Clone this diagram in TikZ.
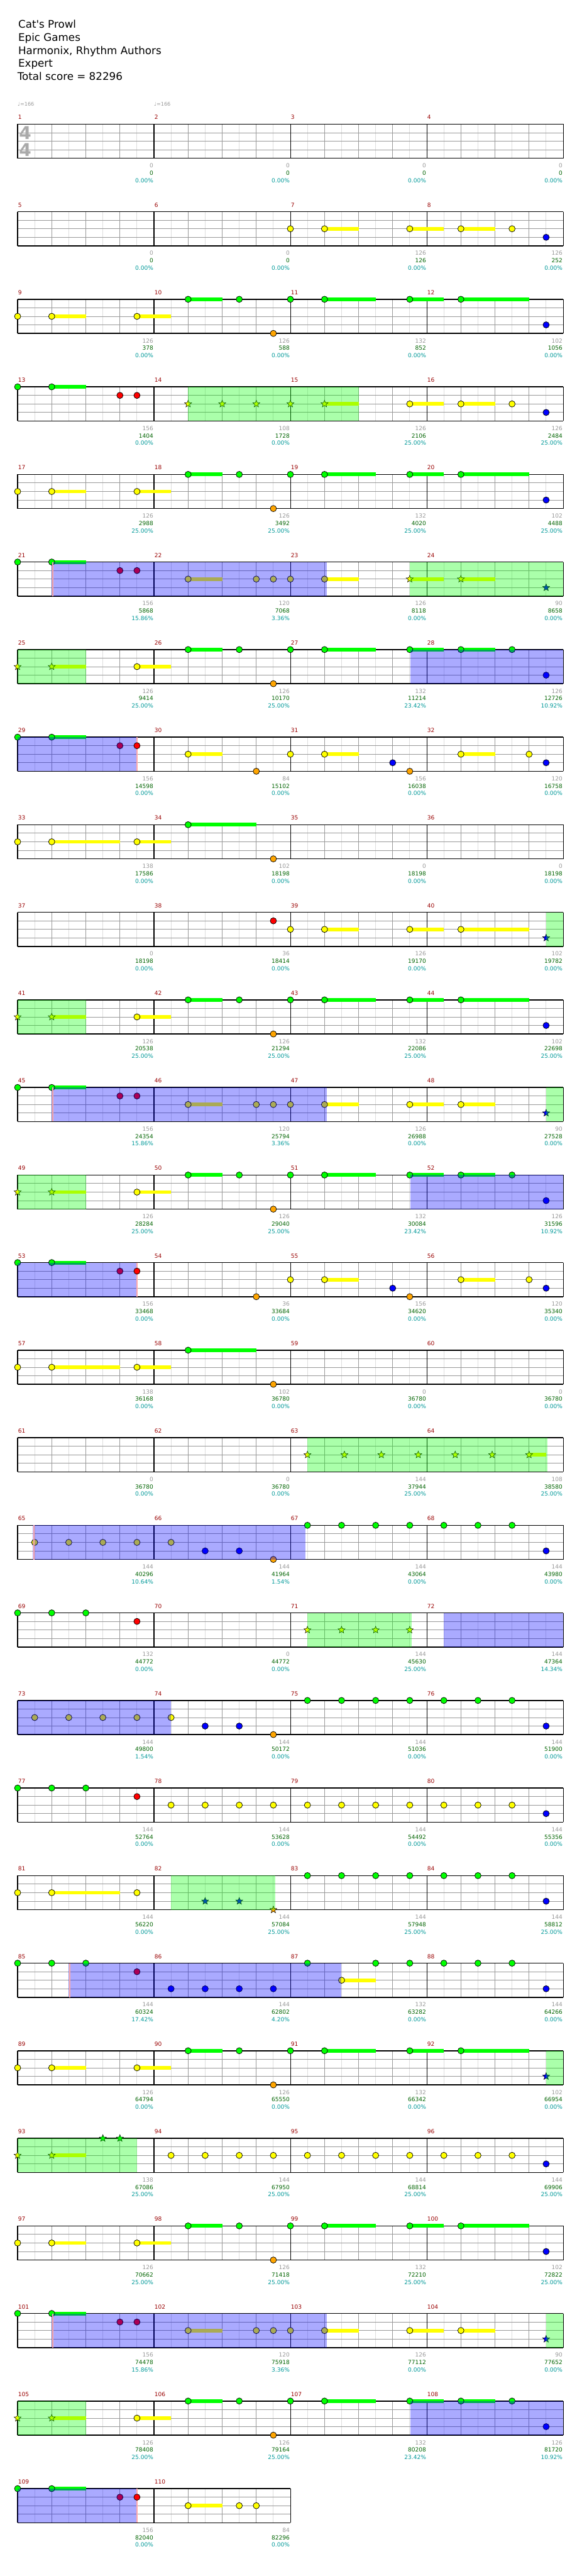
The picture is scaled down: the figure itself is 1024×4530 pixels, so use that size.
\documentclass[tikz,border=0pt]{standalone}
\usepackage{fontspec}
\newfontfamily\dv{DejaVu Sans}
\usetikzlibrary{shapes.geometric}
\definecolor{lane0}{RGB}{0,255,0}
\definecolor{lane1}{RGB}{255,0,0}
\definecolor{lane2}{RGB}{255,255,0}
\definecolor{lane3}{RGB}{0,0,255}
\definecolor{lane4}{RGB}{255,165,0}
\definecolor{mnum}{RGB}{153,0,0}
\definecolor{lgray}{RGB}{153,153,153}
\definecolor{vlgray}{RGB}{221,221,221}
\definecolor{cumgreen}{RGB}{0,100,0}
\definecolor{pctteal}{RGB}{0,153,153}
\definecolor{pinkedge}{RGB}{255,170,170}
\definecolor{tsig}{RGB}{170,170,170}
% note: measure, position (eighths), lane, sustain length (eighths)
\newcommand\nt[4]{%
  \pgfmathsetmacro\nx{31+mod(#1-1,4)*240+#2*30}%
  \pgfmathsetmacro\ny{218.3+floor((#1-1)/4)*154+#3*15}%
  \pgfmathsetmacro\nl{#4*30}%
  \ifdim\nl pt>0pt\relax \draw[sus,lane#3] (\nx,\ny) -- ++(\nl,0);\fi
  \draw[note,fill=lane#3] (\nx,\ny) circle[radius=5.5];}
\newcommand\stn[4]{%
  \pgfmathsetmacro\nx{31+mod(#1-1,4)*240+#2*30}%
  \pgfmathsetmacro\ny{218.3+floor((#1-1)/4)*154+#3*15}%
  \pgfmathsetmacro\nl{#4*30}%
  \ifdim\nl pt>0pt\relax \draw[sus,lane#3] (\nx,\ny) -- ++(\nl,0);\fi
  \node[starnote,fill=lane#3] at (\nx,\ny) {};}
% overlays: measure, position, length (eighths)
\newcommand\spa[3]{%
  \pgfmathsetmacro\nx{31+mod(#1-1,4)*240+#2*30}%
  \pgfmathsetmacro\ny{218.3+floor((#1-1)/4)*154}%
  \pgfmathsetmacro\nl{#3*30}%
  \fill[lane0,opacity=0.333] (\nx,\ny) rectangle ++(\nl,60);}
\newcommand\bla[3]{%
  \pgfmathsetmacro\nx{31+mod(#1-1,4)*240+#2*30}%
  \pgfmathsetmacro\ny{218.3+floor((#1-1)/4)*154}%
  \pgfmathsetmacro\nl{#3*30}%
  \fill[lane3,opacity=0.333] (\nx,\ny) rectangle ++(\nl,60);}
\newcommand\pke[2]{%
  \pgfmathsetmacro\nx{31+mod(#1-1,4)*240+#2*30}%
  \pgfmathsetmacro\ny{218.3+floor((#1-1)/4)*154}%
  \draw[pinkedge,line width=2.5pt] (\nx,\ny) -- ++(0,60);}
% labels under measure end
\newcommand\lb[4]{%
  \pgfmathsetmacro\nx{31+(mod(#1-1,4)+1)*240-1}%
  \pgfmathsetmacro\ny{218.3+floor((#1-1)/4)*154+60}%
  \node[lab,text=lgray] (g#1) at (\nx,\ny+16.6) {#2};
  \node[lab,text=cumgreen] (c#1) at (\nx,\ny+29.6) {#3};
  \node[lab,text=pctteal] (p#1) at (\nx,\ny+42.6) {#4\%};}
% recurring four-measure figure (yellow riff, then green riff)
\newcommand\riffA[1]{%
  \pgfmathtruncatemacro\ma{#1}\pgfmathtruncatemacro\mb{#1+1}%
  \pgfmathtruncatemacro\mc{#1+2}\pgfmathtruncatemacro\md{#1+3}%
  \nt{\ma}{0}{2}{0}\nt{\ma}{2}{2}{2}\nt{\ma}{7}{2}{2}%
  \nt{\mb}{2}{0}{2}\nt{\mb}{5}{0}{0}\nt{\mb}{7}{4}{0}%
  \nt{\mc}{0}{0}{0}\nt{\mc}{2}{0}{3}\nt{\mc}{7}{0}{2}%
  \nt{\md}{2}{0}{4}}
\begin{document}
\begin{tikzpicture}[x=1pt,y=-1pt,
  note/.style={draw=black,line width=0.8pt},
  sus/.style={line width=6.5pt},
  starnote/.style={star,star points=5,star point ratio=2.3,minimum size=13pt,inner sep=0pt,draw=black,line width=0.6pt},
  lab/.style={anchor=base east,inner sep=0pt,font=\dv\fontsize{10}{10}\selectfont},
  mnumst/.style={anchor=base west,inner sep=0pt,text=mnum,font=\dv\fontsize{10}{10}\selectfont},
  title/.style={anchor=base west,inner sep=0pt,font=\dv\fontsize{18.5}{20}\selectfont},
  tempo/.style={anchor=base west,inner sep=0pt,text=lgray,font=\dv\fontsize{9}{9}\selectfont},
  tsnum/.style={inner sep=0pt,text=tsig,font=\dv\bfseries\fontsize{31}{31}\selectfont}]
\fill[white] (0,0) rectangle (1024,4530);
\useasboundingbox (0,0) rectangle (1024,4530);
% header
\node[title] (t1) at (32,49) {Cat's Prowl};
\node[title] (t2) at (32,72.3) {Epic Games};
\node[title] (t3) at (32,95.3) {Harmonix, Rhythm Authors};
\node[title] (t4) at (32,118.3) {Expert};
\node[title] (t5) at (30.5,141.3) {Total score = 82296};
\node[tempo] (tp1) at (31,186.3) {♩=166};
\node[tempo] (tp2) at (271,186.3) {♩=166};
% grid
\foreach \r in {0,...,27}{
  \pgfmathsetmacro\yt{218.3+154*\r}
  \pgfmathtruncatemacro\nb{\r<27 ? 16 : 8}
  \pgfmathsetmacro\xe{31+60*\nb}
  \foreach \k in {1,...,\nb}{
    \draw[vlgray,line width=1pt] (31+60*\k-30,\yt) -- ++(0,60);
    \draw[lgray,line width=1pt] (31+60*\k,\yt) -- ++(0,60);
  }
  \foreach \j in {15,30,45} \draw[lgray,line width=1pt] (31,\yt+\j) -- (\xe,\yt+\j);
  \pgfmathtruncatemacro\nm{\nb/4}
  \foreach \k in {0,...,\nm} \draw[black,line width=1.2pt] (31+240*\k,\yt) -- ++(0,60);
  \draw[black,line width=1.5pt] (31,\yt) -- (\xe,\yt) (31,\yt+60) -- (\xe,\yt+60);
}
\node[tsnum] (ts1) at (44.5,233.5) {4};
\node[tsnum] (ts2) at (44.5,264) {4};
\foreach \m in {1,...,110}{
  \pgfmathsetmacro\nx{31+mod(\m-1,4)*240+0.8}
  \pgfmathsetmacro\ny{218.3+floor((\m-1)/4)*154-8.3}
  \node[mnumst] (mn\m) at (\nx,\ny) {\m};
}
% ---- notes ----
% row 1
\nt{7}{0}{2}{0}\nt{7}{2}{2}{2}\nt{7}{7}{2}{2}
\nt{8}{2}{2}{2}\nt{8}{5}{2}{0}\nt{8}{7}{3}{0}
% row 2
\riffA{9}\nt{12}{7}{3}{0}
% row 3
\nt{13}{0}{0}{0}\nt{13}{2}{0}{2}\nt{13}{6}{1}{0}\nt{13}{7}{1}{0}
\stn{14}{2}{2}{0}\stn{14}{4}{2}{0}\stn{14}{6}{2}{0}
\stn{15}{0}{2}{0}\stn{15}{2}{2}{2}\nt{15}{7}{2}{2}
\nt{16}{2}{2}{2}\nt{16}{5}{2}{0}\nt{16}{7}{3}{0}
% row 4
\riffA{17}\nt{20}{7}{3}{0}
% row 5
\nt{21}{0}{0}{0}\nt{21}{2}{0}{2}\nt{21}{6}{1}{0}\nt{21}{7}{1}{0}
\nt{22}{2}{2}{2}\nt{22}{6}{2}{0}\nt{22}{7}{2}{0}
\nt{23}{0}{2}{0}\nt{23}{2}{2}{2}\stn{23}{7}{2}{2}
\stn{24}{2}{2}{2}\stn{24}{7}{3}{0}
% row 6
\stn{25}{0}{2}{0}\stn{25}{2}{2}{2}\nt{25}{7}{2}{2}
\nt{26}{2}{0}{2}\nt{26}{5}{0}{0}\nt{26}{7}{4}{0}
\nt{27}{0}{0}{0}\nt{27}{2}{0}{3}\nt{27}{7}{0}{2}
\nt{28}{2}{0}{2}\nt{28}{5}{0}{0}\nt{28}{7}{3}{0}
% row 7
\nt{29}{0}{0}{0}\nt{29}{2}{0}{2}\nt{29}{6}{1}{0}
\nt{30}{2}{2}{2}\nt{30}{6}{4}{0}
\nt{31}{0}{2}{0}\nt{31}{2}{2}{2}\nt{31}{6}{3}{0}\nt{31}{7}{4}{0}
\nt{32}{2}{2}{2}\nt{32}{6}{2}{0}\nt{32}{7}{3}{0}
% row 8
\nt{33}{0}{2}{0}\nt{33}{2}{2}{4}\nt{33}{7}{2}{2}
\nt{34}{2}{0}{4}\nt{34}{7}{4}{0}
% row 9
\nt{38}{7}{1}{0}
\nt{39}{0}{2}{0}\nt{39}{2}{2}{2}\nt{39}{7}{2}{2}
\nt{40}{2}{2}{4}\stn{40}{7}{3}{0}
% row 10
\stn{41}{0}{2}{0}\stn{41}{2}{2}{2}\nt{41}{7}{2}{2}
\nt{42}{2}{0}{2}\nt{42}{5}{0}{0}\nt{42}{7}{4}{0}
\nt{43}{0}{0}{0}\nt{43}{2}{0}{3}\nt{43}{7}{0}{2}
\nt{44}{2}{0}{4}\nt{44}{7}{3}{0}
% row 11
\nt{45}{0}{0}{0}\nt{45}{2}{0}{2}\nt{45}{6}{1}{0}\nt{45}{7}{1}{0}
\nt{46}{2}{2}{2}\nt{46}{6}{2}{0}\nt{46}{7}{2}{0}
\nt{47}{0}{2}{0}\nt{47}{2}{2}{2}\nt{47}{7}{2}{2}
\nt{48}{2}{2}{2}\stn{48}{7}{3}{0}
% row 12
\stn{49}{0}{2}{0}\stn{49}{2}{2}{2}\nt{49}{7}{2}{2}
\nt{50}{2}{0}{2}\nt{50}{5}{0}{0}\nt{50}{7}{4}{0}
\nt{51}{0}{0}{0}\nt{51}{2}{0}{3}\nt{51}{7}{0}{2}
\nt{52}{2}{0}{2}\nt{52}{5}{0}{0}\nt{52}{7}{3}{0}
% row 13
\nt{53}{0}{0}{0}\nt{53}{2}{0}{2}\nt{53}{6}{1}{0}
\nt{54}{6}{4}{0}
\nt{55}{0}{2}{0}\nt{55}{2}{2}{2}\nt{55}{6}{3}{0}\nt{55}{7}{4}{0}
\nt{56}{2}{2}{2}\nt{56}{6}{2}{0}\nt{56}{7}{3}{0}
% row 14
\nt{57}{0}{2}{0}\nt{57}{2}{2}{4}\nt{57}{7}{2}{2}
\nt{58}{2}{0}{4}\nt{58}{7}{4}{0}
% row 15
\stn{63}{1}{2}{0}\stn{63}{3.167}{2}{0}\stn{63}{5.333}{2}{0}\stn{63}{7.5}{2}{0}
\stn{64}{1.667}{2}{0}\stn{64}{3.833}{2}{0}\stn{64}{6}{2}{1}
% row 16
\nt{65}{1}{2}{0}\nt{65}{3}{2}{0}\nt{65}{5}{2}{0}\nt{65}{7}{2}{0}
\nt{66}{1}{2}{0}\nt{66}{3}{3}{0}\nt{66}{5}{3}{0}\nt{66}{7}{4}{0}
\nt{67}{1}{0}{0}\nt{67}{3}{0}{0}\nt{67}{5}{0}{0}\nt{67}{7}{0}{0}
\nt{68}{1}{0}{0}\nt{68}{3}{0}{0}\nt{68}{5}{0}{0}\nt{68}{7}{3}{0}
% row 17
\nt{69}{0}{0}{0}\nt{69}{2}{0}{0}\nt{69}{4}{0}{0}\nt{69}{7}{1}{0}
\stn{71}{1}{2}{0}\stn{71}{3}{2}{0}\stn{71}{5}{2}{0}\stn{71}{7}{2}{0}
% row 18
\nt{73}{1}{2}{0}\nt{73}{3}{2}{0}\nt{73}{5}{2}{0}\nt{73}{7}{2}{0}
\nt{74}{1}{2}{0}\nt{74}{3}{3}{0}\nt{74}{5}{3}{0}\nt{74}{7}{4}{0}
\nt{75}{1}{0}{0}\nt{75}{3}{0}{0}\nt{75}{5}{0}{0}\nt{75}{7}{0}{0}
\nt{76}{1}{0}{0}\nt{76}{3}{0}{0}\nt{76}{5}{0}{0}\nt{76}{7}{3}{0}
% row 19
\nt{77}{0}{0}{0}\nt{77}{2}{0}{0}\nt{77}{4}{0}{0}\nt{77}{7}{1}{0}
\nt{78}{1}{2}{0}\nt{78}{3}{2}{0}\nt{78}{5}{2}{0}\nt{78}{7}{2}{0}
\nt{79}{1}{2}{0}\nt{79}{3}{2}{0}\nt{79}{5}{2}{0}\nt{79}{7}{2}{0}
\nt{80}{1}{2}{0}\nt{80}{3}{2}{0}\nt{80}{5}{2}{0}\nt{80}{7}{3}{0}
% row 20
\nt{81}{0}{2}{0}\nt{81}{2}{2}{4}\nt{81}{7}{2}{0}
\stn{82}{3}{3}{0}\stn{82}{5}{3}{0}\stn{82}{7}{4}{0}
\nt{83}{1}{0}{0}\nt{83}{3}{0}{0}\nt{83}{5}{0}{0}\nt{83}{7}{0}{0}
\nt{84}{1}{0}{0}\nt{84}{3}{0}{0}\nt{84}{5}{0}{0}\nt{84}{7}{3}{0}
% row 21
\nt{85}{0}{0}{0}\nt{85}{2}{0}{0}\nt{85}{4}{0}{0}\nt{85}{7}{1}{0}
\nt{86}{1}{3}{0}\nt{86}{3}{3}{0}\nt{86}{5}{3}{0}\nt{86}{7}{3}{0}
\nt{87}{1}{0}{0}\nt{87}{3}{2}{2}\nt{87}{5}{0}{0}\nt{87}{7}{0}{0}
\nt{88}{1}{0}{0}\nt{88}{3}{0}{0}\nt{88}{5}{0}{0}\nt{88}{7}{3}{0}
% row 22
\riffA{89}\stn{92}{7}{3}{0}
% row 23
\stn{93}{0}{2}{0}\stn{93}{2}{2}{2}\stn{93}{5}{0}{0}\stn{93}{6}{0}{0}
\nt{94}{1}{2}{0}\nt{94}{3}{2}{0}\nt{94}{5}{2}{0}\nt{94}{7}{2}{0}
\nt{95}{1}{2}{0}\nt{95}{3}{2}{0}\nt{95}{5}{2}{0}\nt{95}{7}{2}{0}
\nt{96}{1}{2}{0}\nt{96}{3}{2}{0}\nt{96}{5}{2}{0}\nt{96}{7}{3}{0}
% row 24
\riffA{97}\nt{100}{7}{3}{0}
% row 25
\nt{101}{0}{0}{0}\nt{101}{2}{0}{2}\nt{101}{6}{1}{0}\nt{101}{7}{1}{0}
\nt{102}{2}{2}{2}\nt{102}{6}{2}{0}\nt{102}{7}{2}{0}
\nt{103}{0}{2}{0}\nt{103}{2}{2}{2}\nt{103}{7}{2}{2}
\nt{104}{2}{2}{2}\stn{104}{7}{3}{0}
% row 26
\stn{105}{0}{2}{0}\stn{105}{2}{2}{2}\nt{105}{7}{2}{2}
\nt{106}{2}{0}{2}\nt{106}{5}{0}{0}\nt{106}{7}{4}{0}
\nt{107}{0}{0}{0}\nt{107}{2}{0}{3}\nt{107}{7}{0}{2}
\nt{108}{2}{0}{2}\nt{108}{5}{0}{0}\nt{108}{7}{3}{0}
% row 27
\nt{109}{0}{0}{0}\nt{109}{2}{0}{2}\nt{109}{6}{1}{0}
\nt{110}{2}{2}{2}\nt{110}{5}{2}{0}\nt{110}{6}{2}{0}
% ---- overlays ----
\spa{14}{2}{10}
\spa{23}{7}{9}\spa{25}{0}{4}
\spa{40}{7}{1}\spa{41}{0}{4}
\spa{48}{7}{1}\spa{49}{0}{4}
\spa{63}{1}{14.07}
\spa{71}{1}{6.1}
\spa{82}{1}{6.1}
\spa{92}{7}{1}\spa{93}{0}{7}
\spa{104}{7}{1}\spa{105}{0}{4}
\bla{21}{2}{16.15}\bla{27}{7.05}{8.95}\bla{29}{0}{7}
\bla{45}{2}{16.15}\bla{51}{7.05}{8.95}\bla{53}{0}{7}
\bla{65}{0.9}{16}
\bla{72}{1}{7}\bla{73}{0}{9}
\bla{85}{3}{16}
\bla{101}{2}{16.15}\bla{107}{7.05}{8.95}\bla{109}{0}{7}
\pke{21}{2.05}\pke{29}{7.0}\pke{45}{2.05}\pke{53}{7.0}
\pke{65}{0.95}\pke{85}{3.05}\pke{101}{2.05}\pke{109}{7.0}
\nt{29}{7}{1}{0}\nt{53}{7}{1}{0}\nt{109}{7}{1}{0}
% ---- labels ----
\lb{1}{0}{0}{0.00}\lb{2}{0}{0}{0.00}\lb{3}{0}{0}{0.00}\lb{4}{0}{0}{0.00}
\lb{5}{0}{0}{0.00}\lb{6}{0}{0}{0.00}\lb{7}{126}{126}{0.00}\lb{8}{126}{252}{0.00}
\lb{9}{126}{378}{0.00}\lb{10}{126}{588}{0.00}\lb{11}{132}{852}{0.00}\lb{12}{102}{1056}{0.00}
\lb{13}{156}{1404}{0.00}\lb{14}{108}{1728}{0.00}\lb{15}{126}{2106}{25.00}\lb{16}{126}{2484}{25.00}
\lb{17}{126}{2988}{25.00}\lb{18}{126}{3492}{25.00}\lb{19}{132}{4020}{25.00}\lb{20}{102}{4488}{25.00}
\lb{21}{156}{5868}{15.86}\lb{22}{120}{7068}{3.36}\lb{23}{126}{8118}{0.00}\lb{24}{90}{8658}{0.00}
\lb{25}{126}{9414}{25.00}\lb{26}{126}{10170}{25.00}\lb{27}{132}{11214}{23.42}\lb{28}{126}{12726}{10.92}
\lb{29}{156}{14598}{0.00}\lb{30}{84}{15102}{0.00}\lb{31}{156}{16038}{0.00}\lb{32}{120}{16758}{0.00}
\lb{33}{138}{17586}{0.00}\lb{34}{102}{18198}{0.00}\lb{35}{0}{18198}{0.00}\lb{36}{0}{18198}{0.00}
\lb{37}{0}{18198}{0.00}\lb{38}{36}{18414}{0.00}\lb{39}{126}{19170}{0.00}\lb{40}{102}{19782}{0.00}
\lb{41}{126}{20538}{25.00}\lb{42}{126}{21294}{25.00}\lb{43}{132}{22086}{25.00}\lb{44}{102}{22698}{25.00}
\lb{45}{156}{24354}{15.86}\lb{46}{120}{25794}{3.36}\lb{47}{126}{26988}{0.00}\lb{48}{90}{27528}{0.00}
\lb{49}{126}{28284}{25.00}\lb{50}{126}{29040}{25.00}\lb{51}{132}{30084}{23.42}\lb{52}{126}{31596}{10.92}
\lb{53}{156}{33468}{0.00}\lb{54}{36}{33684}{0.00}\lb{55}{156}{34620}{0.00}\lb{56}{120}{35340}{0.00}
\lb{57}{138}{36168}{0.00}\lb{58}{102}{36780}{0.00}\lb{59}{0}{36780}{0.00}\lb{60}{0}{36780}{0.00}
\lb{61}{0}{36780}{0.00}\lb{62}{0}{36780}{0.00}\lb{63}{144}{37944}{25.00}\lb{64}{108}{38580}{25.00}
\lb{65}{144}{40296}{10.64}\lb{66}{144}{41964}{1.54}\lb{67}{144}{43064}{0.00}\lb{68}{144}{43980}{0.00}
\lb{69}{132}{44772}{0.00}\lb{70}{0}{44772}{0.00}\lb{71}{144}{45630}{25.00}\lb{72}{144}{47364}{14.34}
\lb{73}{144}{49800}{1.54}\lb{74}{144}{50172}{0.00}\lb{75}{144}{51036}{0.00}\lb{76}{144}{51900}{0.00}
\lb{77}{144}{52764}{0.00}\lb{78}{144}{53628}{0.00}\lb{79}{144}{54492}{0.00}\lb{80}{144}{55356}{0.00}
\lb{81}{144}{56220}{0.00}\lb{82}{144}{57084}{25.00}\lb{83}{144}{57948}{25.00}\lb{84}{144}{58812}{25.00}
\lb{85}{144}{60324}{17.42}\lb{86}{144}{62802}{4.20}\lb{87}{132}{63282}{0.00}\lb{88}{144}{64266}{0.00}
\lb{89}{126}{64794}{0.00}\lb{90}{126}{65550}{0.00}\lb{91}{132}{66342}{0.00}\lb{92}{102}{66954}{0.00}
\lb{93}{138}{67086}{25.00}\lb{94}{144}{67950}{25.00}\lb{95}{144}{68814}{25.00}\lb{96}{144}{69906}{25.00}
\lb{97}{126}{70662}{25.00}\lb{98}{126}{71418}{25.00}\lb{99}{132}{72210}{25.00}\lb{100}{102}{72822}{25.00}
\lb{101}{156}{74478}{15.86}\lb{102}{120}{75918}{3.36}\lb{103}{126}{77112}{0.00}\lb{104}{90}{77652}{0.00}
\lb{105}{126}{78408}{25.00}\lb{106}{126}{79164}{25.00}\lb{107}{132}{80208}{23.42}\lb{108}{126}{81720}{10.92}
\lb{109}{156}{82040}{0.00}\lb{110}{84}{82296}{0.00}
\end{tikzpicture}
\end{document}
